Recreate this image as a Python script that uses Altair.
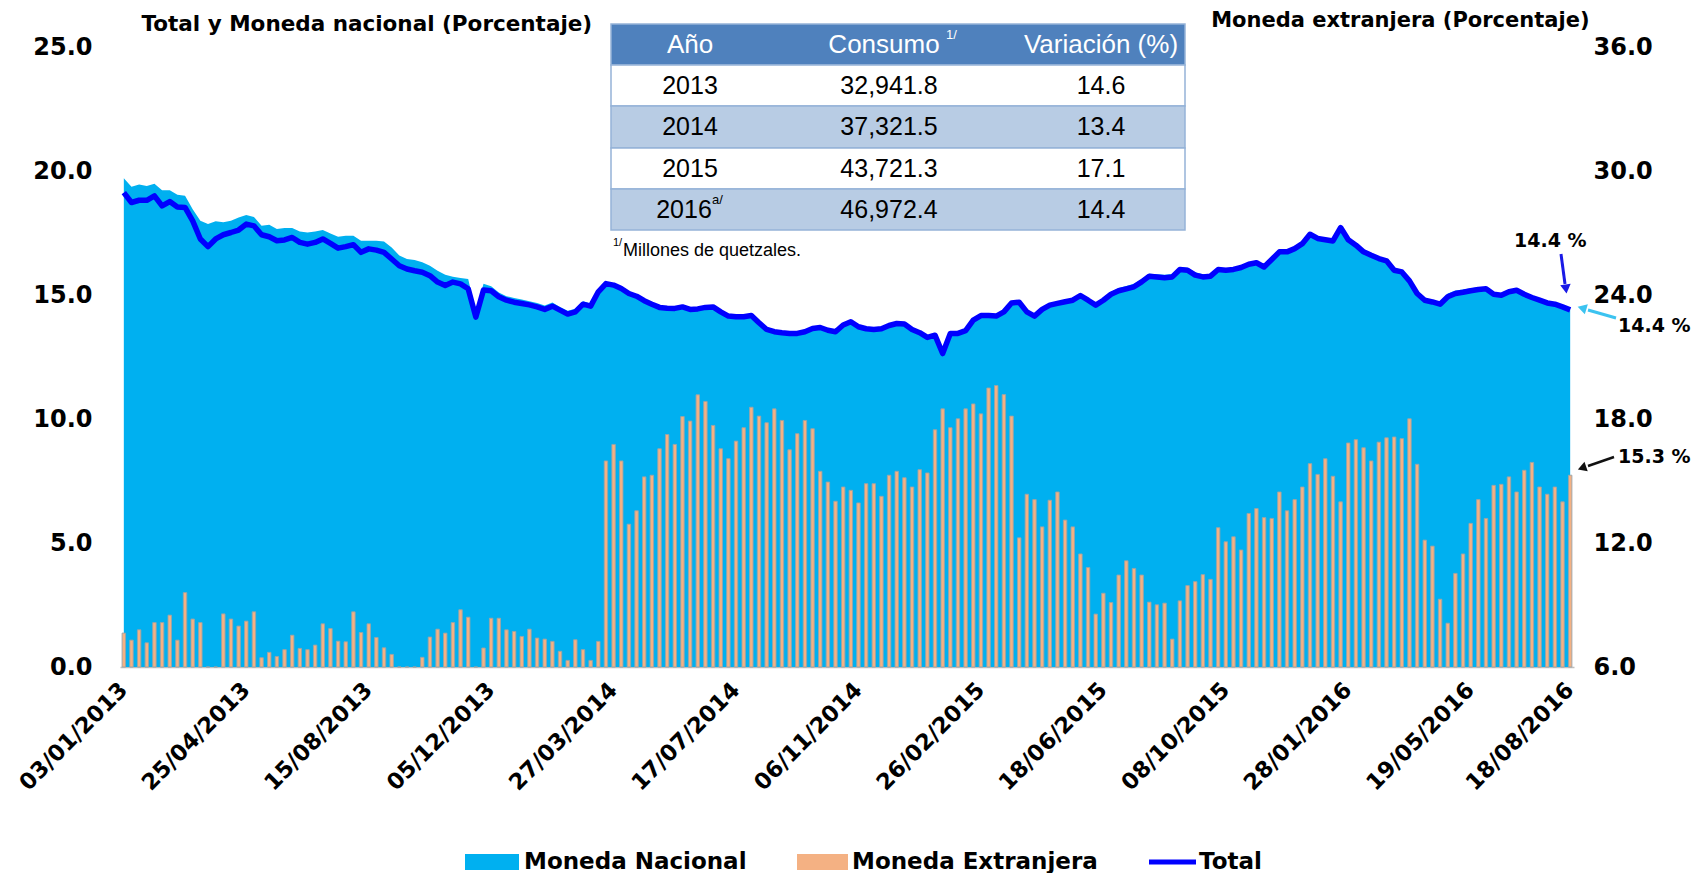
import altair as alt
import pandas as pd

# ---------------- data ----------------
fechas = pd.date_range("2013-01-03", periods=190, freq="7D").strftime("%d/%m/%Y").tolist()

etiquetas = ["03/01/2013", "25/04/2013", "15/08/2013", "05/12/2013", "27/03/2014",
             "17/07/2014", "06/11/2014", "26/02/2015", "18/06/2015", "08/10/2015",
             "28/01/2016", "19/05/2016", "18/08/2016"]

moneda_nacional = [
    19.71, 19.36, 19.46, 19.40, 19.49, 19.22, 19.22, 19.04, 19.00, 18.46,
    17.99, 17.86, 17.97, 17.93, 17.99, 18.13, 18.23, 18.15, 17.79, 17.83,
    17.66, 17.70, 17.70, 17.56, 17.52, 17.56, 17.62, 17.48, 17.35, 17.39,
    17.39, 17.19, 17.19, 17.19, 17.16, 16.92, 16.59, 16.45, 16.41, 16.32,
    16.18, 15.98, 15.82, 15.74, 15.69, 15.65, 14.30, 15.45, 15.35, 15.10,
    14.95, 14.88, 14.82, 14.75, 14.68, 14.58, 14.70, 14.52, 14.36, 14.45,
    14.75, 14.66, 15.22, 15.44, 15.38, 15.24, 15.05, 14.93, 14.76, 14.62,
    14.49, 14.46, 14.45, 14.51, 14.41, 14.43, 14.49, 14.51, 14.31, 14.14,
    14.11, 14.11, 14.16, 13.87, 13.60, 13.51, 13.47, 13.44, 13.44, 13.51,
    13.64, 13.68, 13.57, 13.51, 13.78, 13.91, 13.71, 13.63, 13.60, 13.63,
    13.76, 13.84, 13.82, 13.60, 13.47, 13.28, 13.37, 12.66, 13.44, 13.44,
    13.55, 13.98, 14.16, 14.16, 14.14, 14.31, 14.67, 14.70, 14.31, 14.14,
    14.41, 14.58, 14.65, 14.72, 14.78, 14.97, 14.78, 14.58, 14.80, 15.12,
    15.28, 15.36, 15.45, 15.64, 15.86, 15.84, 15.82, 15.85, 16.12, 16.10,
    15.92, 15.84, 15.84, 16.08, 16.05, 16.05, 16.12, 16.25, 16.30, 16.13,
    16.42, 16.73, 16.73, 16.86, 17.06, 17.44, 17.27, 17.22, 17.17, 17.71,
    17.22, 17.00, 16.73, 16.59, 16.46, 16.37, 15.99, 15.92, 15.56, 15.05,
    14.78, 14.71, 14.72, 15.06, 15.18, 15.22, 15.27, 15.31, 15.32, 15.10,
    15.03, 15.15, 15.20, 15.04, 14.90, 14.79, 14.68, 14.62, 14.52, 14.40,
]

moneda_extranjera = [
    7.64, 7.30, 7.80, 7.17, 8.15, 8.15, 8.51, 7.30, 9.60, 8.32,
    8.15, 6.00, 6.00, 8.57, 8.32, 7.98, 8.22, 8.67, 6.45, 6.71,
    6.51, 6.84, 7.54, 6.90, 6.84, 7.06, 8.09, 7.86, 7.25, 7.22,
    8.67, 7.67, 8.09, 7.43, 6.93, 6.61, 6.00, 6.00, 6.00, 6.47,
    7.45, 7.83, 7.64, 8.15, 8.77, 8.41, 6.00, 6.92, 8.36, 8.36,
    7.80, 7.72, 7.48, 7.83, 7.40, 7.35, 7.24, 6.76, 6.32, 7.32,
    6.84, 6.32, 7.24, 15.97, 16.77, 15.97, 12.91, 13.56, 15.20, 15.28,
    16.56, 17.25, 16.77, 18.12, 17.90, 19.17, 18.85, 17.69, 16.56, 16.08,
    16.93, 17.58, 18.57, 18.14, 17.82, 18.49, 17.93, 16.51, 17.29, 17.93,
    17.53, 15.47, 14.95, 14.02, 14.71, 14.55, 13.94, 14.87, 14.87, 14.26,
    15.28, 15.47, 15.16, 14.71, 15.55, 15.39, 17.48, 18.49, 17.58, 18.01,
    18.49, 18.73, 18.25, 19.50, 19.62, 19.18, 18.14, 12.25, 14.36, 14.10,
    12.78, 14.07, 14.47, 13.11, 12.78, 11.47, 10.81, 8.56, 9.57, 9.12,
    10.45, 11.14, 10.77, 10.45, 9.14, 9.01, 9.09, 7.35, 9.20, 9.94,
    10.13, 10.47, 10.24, 12.74, 12.06, 12.30, 11.66, 13.43, 13.67, 13.23,
    13.19, 14.47, 13.56, 14.10, 14.71, 15.84, 15.32, 16.08, 15.23, 13.99,
    16.84, 17.00, 16.61, 15.97, 16.88, 17.09, 17.13, 17.05, 18.01, 15.81,
    12.14, 11.85, 9.28, 8.12, 10.53, 11.47, 12.95, 14.10, 13.19, 14.79,
    14.84, 15.20, 14.47, 15.52, 15.90, 14.71, 14.36, 14.71, 13.99, 15.28,
]

total = [
    19.13, 18.73, 18.82, 18.82, 19.00, 18.59, 18.77, 18.55, 18.53, 17.99,
    17.26, 16.95, 17.26, 17.43, 17.52, 17.62, 17.86, 17.79, 17.43, 17.35,
    17.19, 17.22, 17.32, 17.12, 17.05, 17.12, 17.26, 17.08, 16.89, 16.95,
    17.03, 16.72, 16.86, 16.81, 16.72, 16.45, 16.18, 16.05, 15.98, 15.92,
    15.78, 15.52, 15.38, 15.52, 15.45, 15.25, 14.11, 15.20, 15.17, 14.93,
    14.79, 14.71, 14.66, 14.60, 14.52, 14.42, 14.55, 14.39, 14.23, 14.32,
    14.63, 14.55, 15.13, 15.46, 15.40, 15.26, 15.06, 14.95, 14.77, 14.63,
    14.50, 14.47, 14.46, 14.52, 14.42, 14.44, 14.50, 14.52, 14.32, 14.15,
    14.12, 14.12, 14.17, 13.88, 13.61, 13.52, 13.48, 13.45, 13.45, 13.52,
    13.65, 13.69, 13.58, 13.52, 13.79, 13.92, 13.72, 13.64, 13.61, 13.64,
    13.77, 13.85, 13.83, 13.61, 13.48, 13.29, 13.38, 12.64, 13.45, 13.45,
    13.56, 13.99, 14.17, 14.17, 14.15, 14.32, 14.68, 14.71, 14.32, 14.15,
    14.42, 14.59, 14.66, 14.73, 14.79, 14.98, 14.79, 14.59, 14.79, 15.03,
    15.17, 15.25, 15.33, 15.53, 15.76, 15.73, 15.70, 15.73, 16.03, 16.00,
    15.80, 15.73, 15.76, 16.03, 16.00, 16.03, 16.11, 16.24, 16.30, 16.13,
    16.43, 16.74, 16.74, 16.87, 17.07, 17.45, 17.28, 17.23, 17.18, 17.72,
    17.23, 17.01, 16.74, 16.60, 16.47, 16.38, 16.00, 15.93, 15.57, 15.06,
    14.79, 14.72, 14.63, 14.93, 15.06, 15.11, 15.17, 15.22, 15.25, 15.03,
    14.99, 15.13, 15.19, 15.03, 14.90, 14.79, 14.68, 14.63, 14.52, 14.40,
]

# small table
tabla_anio = ["2013", "2014", "2015", "2016"]
tabla_sup = ["", "", "", "a/"]
tabla_consumo = [32941.8, 37321.5, 43721.3, 46972.4]
tabla_variacion = [14.6, 13.4, 17.1, 14.4]
tabla_encabezado = ["Año", "Consumo", "Variación (%)"]

# final-value annotations
anot_total = "14.4 %"
anot_mn = "14.4 %"
anot_me = "15.3 %"

assert len(fechas) == len(moneda_nacional) == len(moneda_extranjera) == len(total) == 190

# ---------------- layout ----------------
W, H = 1454, 620
X0, Y0 = 120, 47           # page position of the plot origin
FONT = "DejaVu Sans"
TFONT = "Liberation Sans"

df = pd.DataFrame({"fecha": fechas, "mn": moneda_nacional,
                   "me": moneda_extranjera, "total": total})

x_scale = alt.Scale(paddingInner=0.55, paddingOuter=0.275)
x_axis = alt.Axis(values=etiquetas, labelAngle=-45, labelAlign="right",
                  labelBaseline="middle", labelPadding=19, labelFontSize=22.5,
                  labelFont=FONT, labelFontWeight="bold", labelColor="black",
                  ticks=False, tickSize=0, domainColor="#BFBFBF", domainWidth=1.5,
                  title=None, labelOverlap=False, labelBound=False, grid=False)

y_left_scale = alt.Scale(domain=[0, 25], nice=False, zero=True)
left_axis = alt.Axis(values=[0, 5, 10, 15, 20, 25], format=".1f", labelFontSize=24,
                     labelFont=FONT, labelFontWeight="bold", labelColor="black",
                     ticks=False, tickSize=0, domain=False, grid=False, labelPadding=28,
                     title="Total y Moneda nacional  (Porcentaje)", titleAngle=0,
                     titleAlign="left", titleBaseline="middle", titleX=21, titleY=-23,
                     titleFont=FONT, titleFontSize=21.5, titleFontWeight="bold",
                     titleColor="black")

y_right_scale = alt.Scale(domain=[6, 36], nice=False, zero=False)
right_axis = alt.Axis(values=[6, 12, 18, 24, 30, 36], format=".1f", labelFontSize=24,
                      labelFont=FONT, labelFontWeight="bold", labelColor="black",
                      ticks=False, tickSize=0, domain=False, grid=False, labelPadding=19,
                      orient="right",
                      title="Moneda extranjera (Porcentaje)", titleAngle=0,
                      titleAlign="right", titleBaseline="middle", titleX=15, titleY=-27,
                      titleFont=FONT, titleFontSize=21, titleFontWeight="bold",
                      titleColor="black")

area = alt.Chart(df).mark_area(color="#00B0F0", opacity=1).encode(
    x=alt.X("fecha:O", sort=None, scale=x_scale, axis=x_axis),
    y=alt.Y("mn:Q", scale=y_left_scale, axis=left_axis),
)
line = alt.Chart(df).mark_line(color="#0000FF", strokeWidth=5.5, strokeJoin="round").encode(
    x=alt.X("fecha:O", sort=None),
    y=alt.Y("total:Q", scale=y_left_scale, axis=left_axis),
)
bars = alt.Chart(df).mark_bar(color="#F4B183", stroke="#98A4A8", strokeWidth=0.9).encode(
    x=alt.X("fecha:O", sort=None),
    y=alt.Y("me:Q", scale=y_right_scale, axis=right_axis),
    y2=alt.datum(6),
)

base = alt.layer(alt.layer(area, line), bars).resolve_scale(y="independent")

# ---------------- decorations ----------------
uno = pd.DataFrame({"k": [0]})


def texto(s, x, y, size, color="black", weight="normal", font=FONT, align="left",
          baseline="middle"):
    return alt.Chart(uno).mark_text(text=s, fontSize=size, font=font, fontWeight=weight,
                                    color=color, align=align, baseline=baseline).encode(
        x=alt.value(x - X0), y=alt.value(y - Y0))


def caja(x1, y1, x2, y2, fill, stroke=None, sw=0):
    kw = dict(fill=fill)
    if stroke:
        kw.update(stroke=stroke, strokeWidth=sw)
    return alt.Chart(uno).mark_rect(**kw).encode(
        x=alt.value(x1 - X0), x2=alt.value(x2 - X0),
        y=alt.value(y1 - Y0), y2=alt.value(y2 - Y0))


def regla(x1, y1, x2, y2, color, sw):
    return alt.Chart(uno).mark_rule(color=color, strokeWidth=sw).encode(
        x=alt.value(x1 - X0), x2=alt.value(x2 - X0),
        y=alt.value(y1 - Y0), y2=alt.value(y2 - Y0))


def punta(x, y, shape, angle, color, size=120):
    return alt.Chart(uno).mark_point(shape=shape, angle=angle, filled=True, color=color,
                                     size=size, opacity=1).encode(
        x=alt.value(x - X0), y=alt.value(y - Y0))


deco = []
# table
TX1, TX2 = 611, 1185
row_edges = [24, 65, 106, 148, 189, 230]
col_cx = [690, 884, 1101]
row_fill = ["#FFFFFF", "#B8CCE4", "#FFFFFF", "#B8CCE4"]
deco.append(caja(TX1, row_edges[0], TX2, row_edges[1], "#4F81BD", "#95B3D7", 1.5))
for r in range(4):
    deco.append(caja(TX1, row_edges[r + 1], TX2, row_edges[r + 2], row_fill[r], "#95B3D7", 1.5))
hy = (row_edges[0] + row_edges[1]) / 2
deco.append(texto(tabla_encabezado[0], col_cx[0], hy, 26, "white", font=TFONT, align="center"))
deco.append(texto(tabla_encabezado[1], col_cx[1], hy, 26, "white", font=TFONT, align="center"))
deco.append(texto("1/", 946, hy - 10, 13, "white", font=TFONT))
deco.append(texto(tabla_encabezado[2], col_cx[2], hy, 26, "white", font=TFONT, align="center"))
for r in range(4):
    cy = (row_edges[r + 1] + row_edges[r + 2]) / 2
    if tabla_sup[r]:
        deco.append(texto(tabla_anio[r], 684, cy, 25, font=TFONT, align="center"))
        deco.append(texto(tabla_sup[r], 712, cy - 10, 13, font=TFONT))
    else:
        deco.append(texto(tabla_anio[r], col_cx[0], cy, 25, font=TFONT, align="center"))
    deco.append(texto(f"{tabla_consumo[r]:,.1f}", col_cx[1] + 5, cy, 25, font=TFONT, align="center"))
    deco.append(texto(f"{tabla_variacion[r]:.1f}", col_cx[2], cy, 25, font=TFONT, align="center"))
deco.append(texto("1/", 613, 243, 11, font=TFONT))
deco.append(texto("Millones de quetzales.", 623, 251, 18, font=TFONT))

# annotations for the last values
deco.append(texto(anot_total, 1514, 241, 19, weight="bold"))
deco.append(regla(1561, 254, 1565, 284, "#1A1AE6", 3))
deco.append(punta(1566, 289, "triangle-down", 353, "#1A1AE6", 110))
deco.append(texto(anot_mn, 1618, 326, 19, weight="bold"))
deco.append(regla(1616, 318, 1588, 310, "#3CC3F0", 3))
deco.append(punta(1582, 308, "triangle-left", 17, "#3CC3F0", 110))
deco.append(texto(anot_me, 1618, 457, 19, weight="bold"))
deco.append(regla(1614, 457, 1588, 466, "#111111", 2.5))
deco.append(punta(1582, 468, "triangle-left", 341, "#111111", 100))

# legend
LY = 862
deco.append(caja(465, LY - 8, 519, LY + 8, "#00B0F0"))
deco.append(texto("Moneda Nacional", 524, LY, 23, weight="bold"))
deco.append(caja(797, LY - 8, 848, LY + 8, "#F4B183"))
deco.append(texto("Moneda Extranjera", 852, LY, 23, weight="bold"))
deco.append(regla(1149, LY, 1196, LY, "#0000FF", 5))
deco.append(texto("Total", 1199, LY, 23, weight="bold"))

chart = alt.layer(base, *deco).properties(
    width=W, height=H,
    autosize=alt.AutoSizeParams(type="none"),
    padding={"left": X0 - 8, "top": Y0 - 8, "right": 118, "bottom": 206},
    background="white",
).configure_view(stroke=None)

chart.save("out.html", embed_options={"renderer": "svg", "actions": False})
